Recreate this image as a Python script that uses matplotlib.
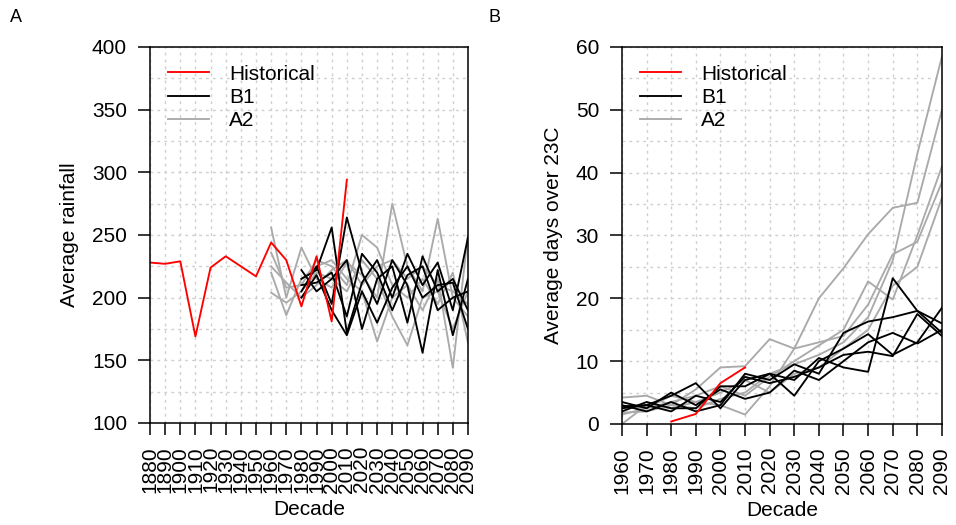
import matplotlib as mpl
import matplotlib.pyplot as plt
from matplotlib.ticker import MultipleLocator

mpl.rcParams.update(
    {
        "font.family": ["Liberation Sans", "DejaVu Sans"],
        "font.size": 15,
        "axes.linewidth": 1.1,
        "xtick.major.size": 8.5,
        "ytick.major.size": 8.5,
        "xtick.major.width": 1.1,
        "ytick.major.width": 1.1,
        "xtick.major.pad": 8,
        "ytick.major.pad": 8,
    }
)

RED = "#ff0000"
BLACK = "#000000"
GREY = "#aaaaaa"
GRID = "#cfcfcf"

# ---- panel A: average rainfall ----
RAIN_DECADES = list(range(1880, 2091, 10))
RAIN_HIST_DECADES = list(range(1880, 2011, 10))
RAIN_HIST = [228, 227, 229, 169, 224, 233, 225, 217, 244, 230, 193, 233, 181, 294]

RAIN_A2_DECADES = list(range(1960, 2091, 10))
RAIN_A2_1 = [256, 200, 240, 215, 208, 228, 218, 200, 275, 225, 205, 263, 200, 185]
RAIN_A2_2 = [220, 186, 215, 225, 230, 215, 205, 165, 200, 210, 190, 215, 144, 250]
RAIN_A2_3 = [204, 196, 205, 220, 215, 205, 230, 215, 185, 162, 200, 205, 175, 205]
RAIN_A2_4 = [236, 208, 210, 230, 225, 210, 250, 240, 210, 200, 215, 195, 220, 164]
RAIN_A2_5 = [225, 212, 200, 210, 222, 230, 210, 225, 230, 215, 225, 210, 205, 195]

RAIN_B1_DECADES = list(range(1980, 2091, 10))
RAIN_B1_1 = [215, 222, 256, 172, 212, 230, 200, 235, 210, 228, 190, 248]
RAIN_B1_2 = [205, 225, 195, 264, 220, 195, 230, 210, 156, 222, 170, 215]
RAIN_B1_3 = [222, 205, 215, 230, 175, 215, 225, 180, 233, 205, 215, 190]
RAIN_B1_4 = [200, 218, 190, 170, 205, 180, 208, 225, 200, 210, 212, 175]
RAIN_B1_5 = [210, 212, 220, 185, 235, 220, 190, 218, 225, 190, 200, 205]

# ---- panel B: days over 23C ----
HOT_DECADES = list(range(1960, 2091, 10))
HOT_HIST_DECADES = [1980, 1990, 2000, 2010]
HOT_HIST = [0.4, 1.6, 6.5, 9.0]

HOT_A2_1 = [4.2, 4.5, 3.0, 5.5, 9.0, 9.2, 13.5, 12.0, 20.0, 24.8, 30.2, 34.4, 35.2, 50.0]
HOT_A2_2 = [2.9, 2.5, 3.5, 4.5, 6.0, 4.5, 7.5, 10.0, 12.5, 15.0, 22.7, 19.8, 30.0, 41.0]
HOT_A2_3 = [1.8, 2.0, 3.0, 2.5, 4.0, 5.0, 8.0, 9.5, 11.0, 13.0, 17.0, 26.0, 43.0, 58.5]
HOT_A2_4 = [1.5, 2.5, 4.5, 3.5, 3.0, 1.5, 6.0, 12.0, 13.0, 14.0, 19.0, 27.0, 29.0, 38.5]
HOT_A2_5 = [0.0, 3.0, 2.5, 3.5, 5.0, 7.0, 5.0, 8.0, 9.0, 12.0, 15.0, 22.0, 25.0, 36.0]

HOT_B1_1 = [2.5, 3.0, 4.5, 6.5, 2.5, 7.0, 8.0, 7.0, 10.5, 9.0, 8.3, 23.2, 18.0, 14.5]
HOT_B1_2 = [3.0, 2.0, 3.5, 2.0, 3.0, 8.0, 7.0, 9.5, 8.0, 14.5, 16.3, 17.0, 18.0, 16.0]
HOT_B1_3 = [2.0, 3.5, 2.5, 2.5, 6.0, 6.0, 8.0, 4.5, 10.0, 12.0, 14.3, 11.0, 13.0, 18.5]
HOT_B1_4 = [3.5, 2.5, 5.0, 3.0, 5.5, 4.0, 5.0, 8.5, 7.0, 10.0, 13.0, 14.5, 12.8, 15.0]
HOT_B1_5 = [2.8, 3.0, 2.0, 4.5, 3.5, 7.5, 6.5, 7.5, 9.0, 11.0, 11.5, 10.8, 17.5, 14.0]


def draw_panel(ax, decades, hist_x, hist, a2_x, a2_runs, b1_x, b1_runs,
               ylim, major, minor, ylabel):
    ax.set_axisbelow(True)
    for run in a2_runs:
        ax.plot(a2_x, run, color=GREY, lw=1.35)
    for run in b1_runs:
        ax.plot(b1_x, run, color=BLACK, lw=1.35)
    ax.plot(hist_x, hist, color=RED, lw=1.35)

    # legend proxies
    h_hist, = ax.plot([], [], color=RED, lw=1.35, label="Historical")
    h_b1, = ax.plot([], [], color=BLACK, lw=1.35, label="B1")
    h_a2, = ax.plot([], [], color=GREY, lw=1.35, label="A2")
    ax.legend(handles=[h_hist, h_b1, h_a2], loc="upper left", frameon=False,
              bbox_to_anchor=(0.0, 1.0), borderaxespad=0.45,
              handlelength=2.0, handletextpad=0.95, labelspacing=0.2)

    ax.set_xlim(decades[0], decades[-1])
    ax.set_ylim(*ylim)
    ax.set_xticks(decades, labels=[str(d) for d in decades], rotation=90)
    ax.yaxis.set_major_locator(MultipleLocator(major))
    ax.yaxis.set_minor_locator(MultipleLocator(minor))
    ax.tick_params(axis="y", which="minor", length=0)
    ax.grid(True, which="both", color=GRID, lw=1.0, linestyle=(0, (2, 3)))
    ax.set_xlabel("Decade", labelpad=5)
    ax.set_ylabel(ylabel, labelpad=9)


fig = plt.figure(figsize=(9.56, 5.25), dpi=100)
ax_a = fig.add_axes([0.1569, 0.1943, 0.3326, 0.7162])
ax_b = fig.add_axes([0.6506, 0.1924, 0.3347, 0.7181])

draw_panel(ax_a, RAIN_DECADES, RAIN_HIST_DECADES, RAIN_HIST,
           RAIN_A2_DECADES, [RAIN_A2_1, RAIN_A2_2, RAIN_A2_3, RAIN_A2_4, RAIN_A2_5],
           RAIN_B1_DECADES, [RAIN_B1_1, RAIN_B1_2, RAIN_B1_3, RAIN_B1_4, RAIN_B1_5],
           (100, 400), 50, 25, "Average rainfall")
draw_panel(ax_b, HOT_DECADES, HOT_HIST_DECADES, HOT_HIST,
           HOT_DECADES, [HOT_A2_1, HOT_A2_2, HOT_A2_3, HOT_A2_4, HOT_A2_5],
           HOT_DECADES, [HOT_B1_1, HOT_B1_2, HOT_B1_3, HOT_B1_4, HOT_B1_5],
           (0, 60), 10, 5, "Average days over 23C")

fig.text(10 / 956, 1 - 18 / 525, "A", ha="left", va="center", fontsize=13)
fig.text(488 / 956, 1 - 18 / 525, "B", ha="left", va="center", fontsize=13)

fig.savefig("out.png", dpi=100)
